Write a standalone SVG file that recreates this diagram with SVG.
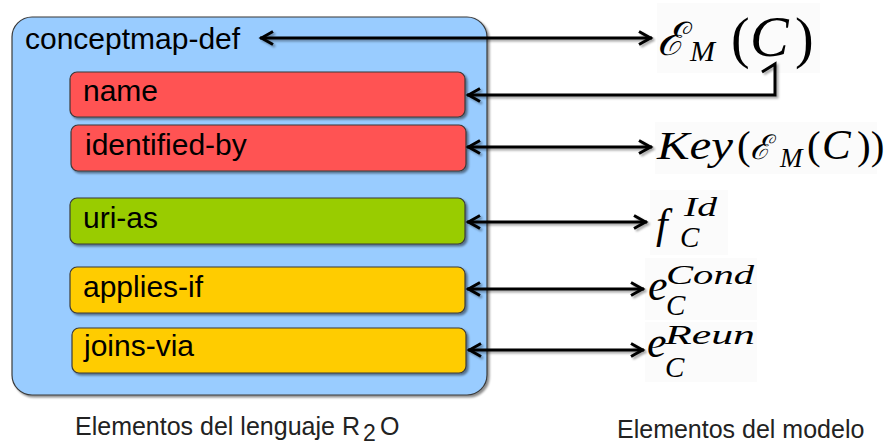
<svg xmlns="http://www.w3.org/2000/svg" width="890" height="445" viewBox="0 0 890 445">
  <style>
    .box { stroke: #3a3a3a; stroke-width: 1.2; filter: url(#shadow); }
    .lbl { font-family: "Liberation Sans", Arial, sans-serif; font-size: 30px; fill: #000; }
    .cap { font-family: "Liberation Sans", Arial, sans-serif; font-size: 25px; fill: #222; }
    .math { font-family: "Liberation Serif", "DejaVu Serif", serif; font-style: italic; fill: #000; }
    .up { font-family: "Liberation Serif", "DejaVu Serif", serif; font-style: normal; fill: #000; }
    .scr { font-family: "DejaVu Serif", "Liberation Serif", serif; font-style: italic; fill: #000; }
    .link { fill: none; stroke: #000; stroke-width: 3; filter: url(#lshadow); }
    .pad { fill: #fbfbfb; }
  </style>
  <defs>
    <filter id="shadow" x="-5%" y="-5%" width="115%" height="120%">
      <feDropShadow dx="2" dy="2" stdDeviation="1.2" flood-color="#000" flood-opacity="0.45"/>
    </filter>
    <!-- user-space region so that flat horizontal lines still get a shadow -->
    <filter id="lshadow" filterUnits="userSpaceOnUse" x="0" y="0" width="890" height="445">
      <feDropShadow dx="2" dy="2" stdDeviation="1" flood-color="#000" flood-opacity="0.35"/>
    </filter>
    <!-- open V head, tip at the line end -->
    <marker id="head" viewBox="-16 -9 18 18" refX="0" refY="0" markerWidth="18" markerHeight="18" markerUnits="userSpaceOnUse" orient="auto-start-reverse">
      <path d="M-13,-6.5 L-1.5,0 L-13,6.5" fill="none" stroke="#000" stroke-width="3" stroke-linejoin="miter"/>
    </marker>
  </defs>

  <rect width="890" height="445" fill="#fff"/>

  <!-- container -->
  <g id="conceptmap-def">
    <rect class="box" x="12" y="17" width="475" height="378" rx="20" fill="#99ccff"/>
    <text class="lbl" x="25" y="49">conceptmap-def</text>
  </g>

  <g id="name">
    <rect class="box" x="70" y="72" width="395" height="45" rx="7" fill="#ff5252"/>
    <text class="lbl" x="83" y="101">name</text>
  </g>

  <g id="identified-by">
    <rect class="box" x="71" y="125" width="395" height="46" rx="7" fill="#ff5252"/>
    <text class="lbl" x="85" y="155">identified-by</text>
  </g>

  <g id="uri-as">
    <rect class="box" x="70" y="198" width="395" height="46" rx="7" fill="#99cc00"/>
    <text class="lbl" x="83" y="228">uri-as</text>
  </g>

  <g id="applies-if">
    <rect class="box" x="70" y="267" width="395" height="46" rx="7" fill="#ffcc00"/>
    <text class="lbl" x="83" y="297">applies-if</text>
  </g>

  <g id="joins-via">
    <rect class="box" x="72" y="328" width="394" height="45" rx="7" fill="#ffcc00"/>
    <text class="lbl" x="84" y="356">joins-via</text>
  </g>

  <!-- model-side expressions -->
  <g id="em-c">
    <rect class="pad" x="657" y="3" width="163" height="70"/>
    <text class="scr" x="657" y="55" font-size="46">ℰ</text>
    <text class="math" x="690" y="61" font-size="30">M</text>
    <text class="up" x="731" y="57" font-size="56">(</text>
    <text class="math" x="750" y="56" font-size="58">C</text>
    <text class="up" x="795" y="57" font-size="56">)</text>
  </g>

  <g id="key-em-c">
    <rect class="pad" x="655" y="122" width="222" height="52"/>
    <text class="math" x="657" y="159" font-size="41" textLength="76" lengthAdjust="spacingAndGlyphs">Key</text>
    <text class="up" x="737" y="159" font-size="41">(</text>
    <text class="scr" x="750" y="159" font-size="34">ℰ</text>
    <text class="math" x="780" y="167" font-size="27">M</text>
    <text class="up" x="807" y="159" font-size="41">(</text>
    <text class="math" x="822" y="159" font-size="43">C</text>
    <text class="up" x="857" y="159" font-size="41">))</text>
  </g>

  <g id="f-id">
    <rect class="pad" x="650" y="190" width="78" height="65"/>
    <text class="math" x="656" y="238" font-size="42">f</text>
    <text class="math" x="684" y="216" font-size="27" textLength="33" lengthAdjust="spacingAndGlyphs">Id</text>
    <text class="math" x="680" y="247" font-size="29">C</text>
  </g>

  <g id="e-cond">
    <rect class="pad" x="645" y="258" width="112" height="62"/>
    <text class="math" x="648" y="300" font-size="44">e</text>
    <text class="math" x="666" y="284" font-size="28" textLength="88" lengthAdjust="spacingAndGlyphs">Cond</text>
    <text class="math" x="666" y="315" font-size="29">C</text>
  </g>

  <g id="e-reun">
    <rect class="pad" x="645" y="322" width="112" height="60"/>
    <text class="math" x="647" y="357" font-size="44">e</text>
    <text class="math" x="665" y="344" font-size="28" textLength="90" lengthAdjust="spacingAndGlyphs">Reun</text>
    <text class="math" x="665" y="377" font-size="29">C</text>
  </g>

  <!-- connectors -->
  <g id="connectors">
    <path class="link" d="M260,38 H652" marker-start="url(#head)" marker-end="url(#head)"/>
    <path class="link" d="M467,95 H775 V64 L762,72" marker-start="url(#head)"/>
    <path class="link" d="M467,147 H652" marker-start="url(#head)" marker-end="url(#head)"/>
    <path class="link" d="M467,222 H647" marker-start="url(#head)" marker-end="url(#head)"/>
    <path class="link" d="M467,289 H644" marker-start="url(#head)" marker-end="url(#head)"/>
    <path class="link" d="M468,350 H644" marker-start="url(#head)" marker-end="url(#head)"/>
  </g>

  <!-- captions -->
  <text class="cap" y="435"><tspan x="75">Elementos del lenguaje </tspan><tspan x="342">R</tspan><tspan x="363" y="441" font-size="23">2</tspan><tspan x="380" y="435">O</tspan></text>
  <text class="cap" x="617" y="438">Elementos del modelo</text>
</svg>
